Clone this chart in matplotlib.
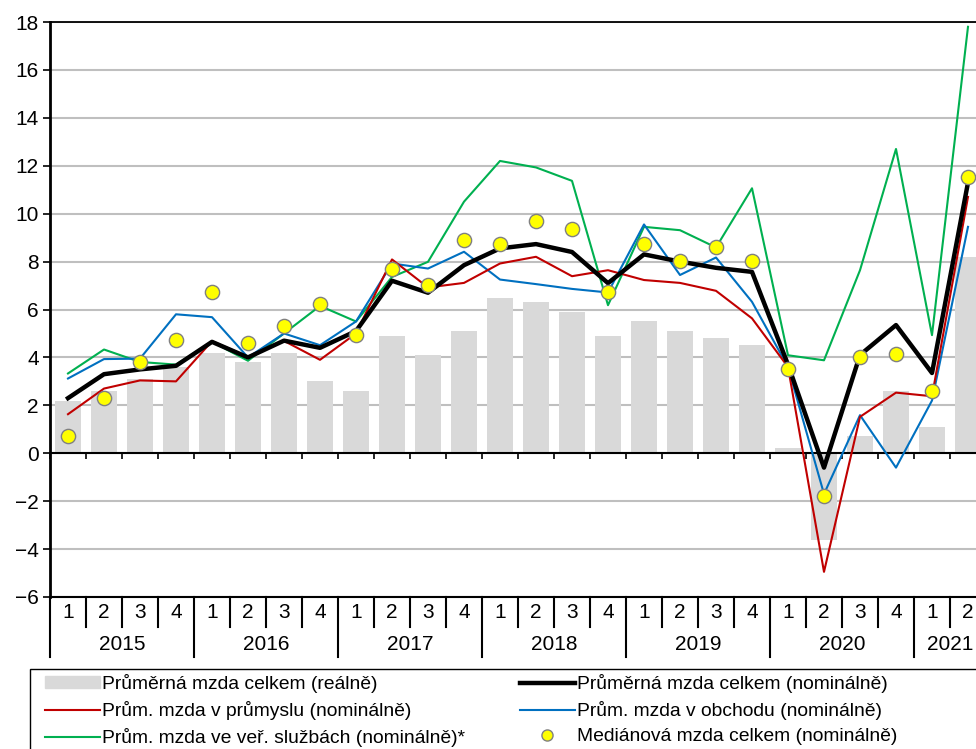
import numpy as np
import matplotlib.pyplot as plt
from matplotlib.lines import Line2D
from matplotlib.patches import Patch, Rectangle
import matplotlib.transforms as mtransforms

plt.rcParams['font.family'] = ['Liberation Sans', 'DejaVu Sans']

years = ['2015', '2016', '2017', '2018', '2019', '2020', '2021']
quarters = ['1', '2', '3', '4'] * 6 + ['1', '2']

real_avg = [2.2, 2.6, 3.1, 3.6, 4.2, 3.8, 4.2, 3.0, 2.6, 4.9, 4.1, 5.1,
            6.5, 6.3, 5.9, 4.9, 5.5, 5.1, 4.8, 4.5, 0.2, -3.6, 0.7, 2.6, 1.1, 8.2]
nominal_avg = [2.3, 3.3, 3.5, 3.65, 4.65, 4.0, 4.7, 4.4, 5.1, 7.2, 6.7, 7.85,
               8.55, 8.73, 8.4, 7.1, 8.3, 8.0, 7.74, 7.57, 3.7, -0.6, 4.1, 5.35, 3.35, 11.3]
industry = [1.63, 2.7, 3.04, 3.0, 4.68, 4.02, 4.69, 3.9, 5.0, 8.09, 6.92, 7.11,
            7.92, 8.2, 7.39, 7.64, 7.23, 7.11, 6.78, 5.63, 3.6, -4.95, 1.52, 2.53, 2.38, 10.7]
trade = [3.12, 3.93, 3.95, 5.8, 5.68, 4.0, 5.0, 4.51, 5.5, 7.92, 7.71, 8.41,
         7.25, 7.06, 6.86, 6.71, 9.55, 7.44, 8.17, 6.32, 3.6, -1.7, 1.59, -0.6, 2.2, 9.45]
public = [3.33, 4.33, 3.81, 3.7, 4.65, 3.86, 5.0, 6.15, 5.5, 7.36, 7.99, 10.5,
          12.2, 11.93, 11.37, 6.18, 9.45, 9.31, 8.59, 11.06, 4.09, 3.88, 7.64, 12.7, 4.93, 17.8]
median = [0.72, 2.31, 3.81, 4.72, 6.72, 4.62, 5.3, 6.24, 4.93, 7.71, 7.02, 8.92,
          8.73, 9.7, 9.34, 6.71, 8.73, 8.03, 8.62, 8.03, 3.5, -1.78, 4.02, 4.13, 2.6, 11.54]

labels = ['Průměrná mzda celkem (reálně)',
          'Průměrná mzda celkem (nominálně)',
          'Prům. mzda v průmyslu (nominálně)',
          'Prům. mzda v obchodu (nominálně)',
          'Prům. mzda ve veř. službách (nominálně)*',
          'Mediánová mzda celkem (nominálně)']

W, H = 976, 749
fig = plt.figure(figsize=(W / 100, H / 100), dpi=100)
ax = fig.add_axes([50 / W, 1 - 597 / H, 1 - 50 / W, (597 - 22) / H])

x = np.arange(len(quarters))
c_bar = '#d9d9d9'
c_red = '#c00000'
c_blue = '#0070c0'
c_green = '#00b050'

ax.bar(x, real_avg, width=0.72, color=c_bar, zorder=2)
ax.plot(x, public, color=c_green, lw=1.5, zorder=3)
ax.plot(x, trade, color=c_blue, lw=1.5, zorder=3)
ax.plot(x, industry, color=c_red, lw=1.5, zorder=3)
ax.plot(x, nominal_avg, color='black', lw=3.2, zorder=4)
ax.scatter(x, median, s=105, color='#ffff00', edgecolor='#808080', lw=1, zorder=5)

ax.set_yticks(np.arange(-6, 19, 2))
ax.yaxis.grid(True, color='#bfbfbf', lw=1.5, zorder=0)
ax.set_axisbelow(True)
ax.tick_params(axis='y', labelsize=15, length=5, width=1.2, pad=3)

# x axis drawn at zero with boundary ticks
ax.spines['bottom'].set_position(('data', 0))
ax.spines['bottom'].set_linewidth(1.5)
ax.set_xticks(np.arange(-0.5, len(quarters) + 0.5, 1))
ax.set_xticklabels([])
ax.tick_params(axis='x', length=4.5, width=1.2, direction='out')
ax.spines['right'].set_visible(False)
ax.spines['left'].set_linewidth(2)
ax.spines['top'].set_linewidth(1.3)
# limits after ticks so the ticks don't widen the view (last quarter is cut off)
ax.set_xlim(-0.5, (W - 50) / 36 - 0.5)
ax.set_ylim(-6, 18)
ax.axhline(-6, color='black', lw=1.5, clip_on=False, zorder=6)

# category labels below the plot
tr = mtransforms.blended_transform_factory(ax.transData, fig.transFigure)
y_bot = 1 - 597 / H
for i, q in enumerate(quarters):
    fig.text(i, 1 - 613 / H, q, transform=tr, ha='center', va='center', fontsize=15)
for b in range(len(quarters) + 1):
    y_end = 1 - 657 / H if b % 4 == 0 else 1 - 627 / H
    ax.add_line(Line2D([b - 0.5, b - 0.5], [y_bot, y_end], transform=tr,
                       color='black', lw=1.5, clip_on=False))
for k, yr in enumerate(years):
    start = 4 * k
    end = min(4 * k + 4, len(quarters))
    fig.text((start + end - 1) / 2, 1 - 644 / H, yr, transform=tr,
             ha='center', va='center', fontsize=15)

# legend
fig.add_artist(Rectangle((30 / W, -0.01), 1.0, 1 - 669 / H + 0.01,
                         transform=fig.transFigure, fill=False,
                         edgecolor='black', lw=1.0))
handles = [Patch(color=c_bar),
           Line2D([], [], color=c_red, lw=1.5),
           Line2D([], [], color=c_green, lw=1.5),
           Line2D([], [], color='black', lw=3.2),
           Line2D([], [], color=c_blue, lw=1.5),
           Line2D([], [], ls='', marker='o', markersize=8, markerfacecolor='#ffff00',
                  markeredgecolor='#808080')]
leg_labels = [labels[0], labels[2], labels[4], labels[1], labels[3], labels[5]]
fig.legend(handles, leg_labels, ncol=2, loc='upper left',
           bbox_to_anchor=(45 / W, 1 - 674 / H), frameon=False, fontsize=13.9,
           handlelength=2.85, handleheight=0.55, handletextpad=0.1,
           columnspacing=2.83, labelspacing=0.42, borderaxespad=0, borderpad=0)

fig.savefig('out.png', dpi=100)
